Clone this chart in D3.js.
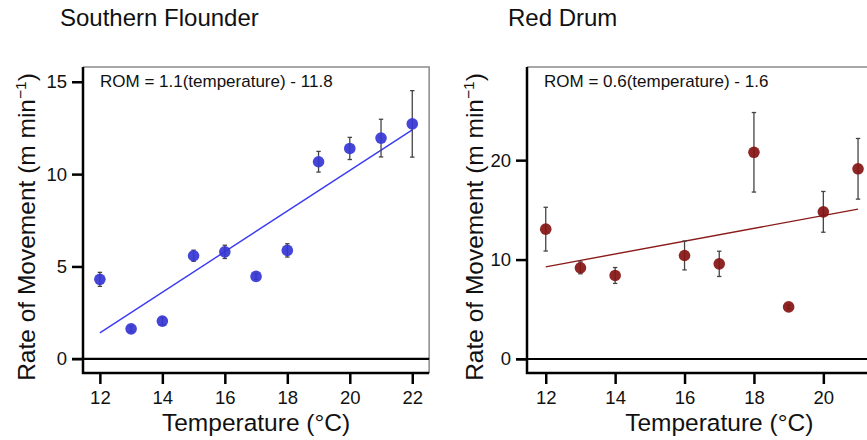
<!DOCTYPE html>
<html>
<head>
<meta charset="utf-8">
<script src="https://cdn.jsdelivr.net/npm/d3@7"></script>
<style>
  body { margin: 0; background: #fff; }
  svg text { font-family: "Liberation Sans", Arial, Helvetica, sans-serif; fill: #111; }
</style>
</head>
<body>
<div id="chart"></div>
<script>
// temperatures (°C) and mean rate of movement (m/min) with error half-widths
var flounderTemp = [12, 13, 14, 15, 16, 17, 18, 19, 20, 21, 22];
var flounderRom  = [4.3, 1.62, 2.04, 5.58, 5.79, 4.46, 5.87, 10.67, 11.39, 11.95, 12.72];
var flounderErr  = [0.38, 0.15, 0.2, 0.3, 0.36, 0.15, 0.36, 0.56, 0.6, 1.02, 1.8];
var flounderFit  = {slope: 1.1, intercept: -11.8, from: 12, to: 22};

var drumTemp = [12, 13, 14, 16, 17, 18, 19, 20, 21];
var drumRom  = [13.06, 9.17, 8.4, 10.41, 9.57, 20.79, 5.24, 14.8, 19.13];
var drumErr  = [2.2, 0.6, 0.8, 1.45, 1.27, 4.0, 0.2, 2.05, 3.05];
var drumFit  = {slope: 0.645, intercept: 1.53, from: 12, to: 21};

var flounderXTicks = [12, 14, 16, 18, 20, 22];
var drumXTicks = [12, 14, 16, 18, 20];
var flounderYTicks = [0, 5, 10, 15];
var drumYTicks = [0, 10, 20];

var width = 867, height = 440;

var svg = d3.select("#chart").append("svg")
    .attr("width", width)
    .attr("height", height);

function drawPanel(p) {
  var g = svg.append("g");

  var x = d3.scaleLinear().domain([11.46, 22.54]).range([p.left, p.left + p.xUnit * 11.08]);
  var y = d3.scaleLinear().domain(p.yDomain).range([373, 67]);

  // title
  g.append("text")
    .attr("x", p.titleX).attr("y", 26)
    .style("font-size", "24px")
    .text(p.title);

  // light frame top + right
  g.append("path")
    .attr("d", "M" + p.left + ",67H" + x.range()[1] + "V373")
    .attr("fill", "none")
    .attr("stroke", "#8a8a8a")
    .attr("stroke-width", 1.5);

  // y axis
  var yAxis = g.append("g")
    .attr("transform", "translate(" + p.left + ",0)")
    .call(d3.axisLeft(y).tickValues(p.yTicks).tickSize(11).tickPadding(5));
  yAxis.select(".domain").remove();
  yAxis.selectAll("line").attr("stroke", "#000").attr("stroke-width", 2.5);
  yAxis.selectAll("text").style("font-size", "18.5px").attr("font-family", null);

  // x axis
  var xAxis = g.append("g")
    .attr("transform", "translate(0,373)")
    .call(d3.axisBottom(x).tickValues(p.xTicks).tickSize(11).tickPadding(7));
  xAxis.select(".domain").remove();
  xAxis.selectAll("line").attr("stroke", "#000").attr("stroke-width", 2.5);
  xAxis.selectAll("text").style("font-size", "18.5px").attr("font-family", null);

  // thick axis lines
  g.append("path")
    .attr("d", "M" + p.left + ",67V373H" + x.range()[1])
    .attr("fill", "none")
    .attr("stroke", "#000")
    .attr("stroke-width", 2.5);

  // zero line
  g.append("line")
    .attr("x1", p.left - 11).attr("x2", x.range()[1])
    .attr("y1", y(0)).attr("y2", y(0))
    .attr("stroke", "#000")
    .attr("stroke-width", 2.2);

  // equation
  g.append("text")
    .attr("x", p.left + 17).attr("y", 87)
    .style("font-size", "17px")
    .text(p.equation);

  // axis titles
  g.append("text")
    .attr("x", x(17)).attr("y", 431)
    .attr("text-anchor", "middle")
    .style("font-size", "24.5px")
    .text("Temperature (°C)");

  var yl = g.append("text")
    .attr("transform", "translate(" + p.ylabX + ",227) rotate(-90)")
    .attr("text-anchor", "middle")
    .style("font-size", "24.5px");
  yl.append("tspan").text("Rate of Movement (m min");
  yl.append("tspan").attr("dy", -9).style("font-size", "15.5px").text("\u22121");
  yl.append("tspan").attr("dy", 9).text(")");

  // fit line
  var fit = p.fit;
  g.append("line")
    .attr("x1", x(fit.from)).attr("y1", y(fit.slope * fit.from + fit.intercept))
    .attr("x2", x(fit.to)).attr("y2", y(fit.slope * fit.to + fit.intercept))
    .attr("stroke", p.lineColor)
    .attr("stroke-width", 1.4);

  var pts = p.temp.map(function(t, i) { return {t: t, v: p.rom[i], e: p.err[i]}; });

  // error bars
  var eb = g.selectAll(".eb").data(pts).enter().append("g").attr("class", "eb");
  eb.append("line")
    .attr("x1", function(d) { return x(d.t); }).attr("x2", function(d) { return x(d.t); })
    .attr("y1", function(d) { return y(d.v - d.e); }).attr("y2", function(d) { return y(d.v + d.e); })
    .attr("stroke", "#444").attr("stroke-width", 1.3);
  [-1, 1].forEach(function(s) {
    eb.append("line")
      .attr("x1", function(d) { return x(d.t) - 2.2; }).attr("x2", function(d) { return x(d.t) + 2.2; })
      .attr("y1", function(d) { return y(d.v + s * d.e); }).attr("y2", function(d) { return y(d.v + s * d.e); })
      .attr("stroke", "#444").attr("stroke-width", 1.3);
  });

  // points
  g.selectAll(".pt").data(pts).enter().append("circle")
    .attr("class", "pt")
    .attr("cx", function(d) { return x(d.t); })
    .attr("cy", function(d) { return y(d.v); })
    .attr("r", 5.8)
    .attr("fill", p.pointColor)
    .attr("fill-opacity", 0.92);
}

drawPanel({
  title: "Southern Flounder", titleX: 60,
  left: 83, xUnit: 31.24,
  yDomain: [-0.77, 15.8], yTicks: flounderYTicks, xTicks: flounderXTicks,
  equation: "ROM = 1.1(temperature) - 11.8",
  ylabX: 35,
  temp: flounderTemp, rom: flounderRom, err: flounderErr, fit: flounderFit,
  pointColor: "#3535d4", lineColor: "#3a3af2"
});

drawPanel({
  title: "Red Drum", titleX: 508,
  left: 527, xUnit: 34.7,
  yDomain: [-1.41, 29.37], yTicks: drumYTicks, xTicks: drumXTicks,
  equation: "ROM = 0.6(temperature) - 1.6",
  ylabX: 483,
  temp: drumTemp, rom: drumRom, err: drumErr, fit: drumFit,
  pointColor: "#861414", lineColor: "#8b1a1a"
});
</script>
</body>
</html>
